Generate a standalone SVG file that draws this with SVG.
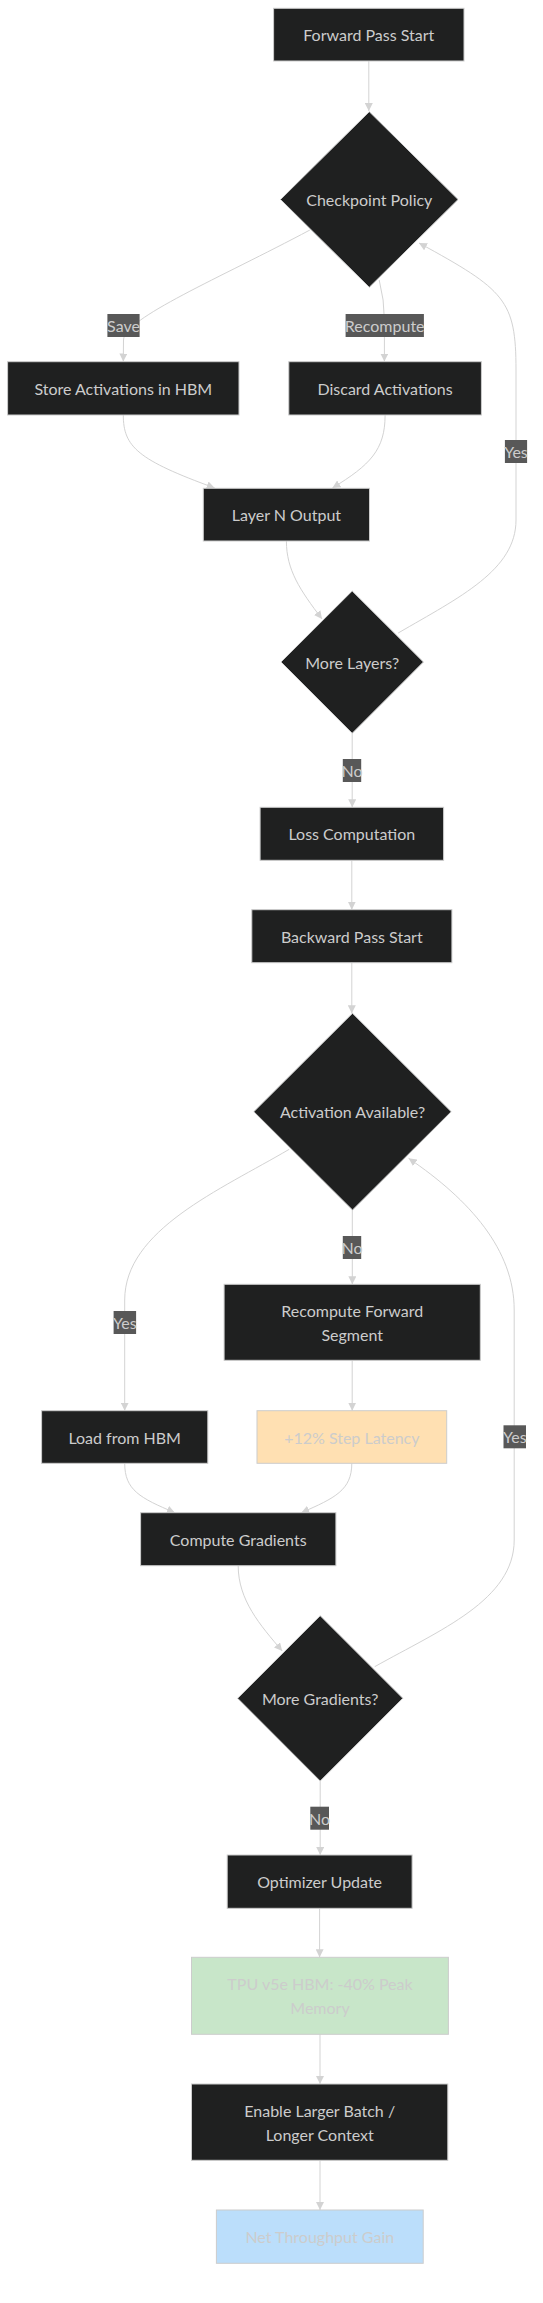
<svg xmlns="http://www.w3.org/2000/svg" width="543" height="2303" viewBox="0 0 543 2303">
<style>
.node rect, .node polygon { fill: #1f2020; stroke: #cccccc; stroke-width: 1; }
.node text { fill: #cccccc; font-family: Lato, "Liberation Sans", sans-serif; font-size: 16px; text-anchor: middle; dominant-baseline: central; }
.edges path { fill: none; stroke: #d3d3d3; stroke-width: 1; }
.elabel rect { fill: #585858; }
.elabel text { fill: #cccccc; font-family: Lato, "Liberation Sans", sans-serif; font-size: 16px; text-anchor: middle; dominant-baseline: central; }
.node.peach rect { fill: #ffe0b2; }
.node.green rect { fill: #c8e6c9; }
.node.blue rect { fill: #bbdefb; }
</style>
<defs>
<marker id="arrow" viewBox="0 0 10 10" refX="10" refY="5" markerWidth="8" markerHeight="8" markerUnits="userSpaceOnUse" orient="auto">
<path d="M0,0 L10,5 L0,10 z" fill="#d3d3d3"/>
</marker>
</defs>
<rect x="0" y="0" width="543" height="2303" fill="#ffffff"/>
<g class="edges">
<path marker-end="url(#arrow)" d="M368.8,61 L368.8,111"/>
<path marker-end="url(#arrow)" d="M309.9,230 C220,278 124,318 123.5,340 L123.3,361.5"/>
<path marker-end="url(#arrow)" d="M379.2,280 Q384.4,300 384.4,320 L384.4,361.5"/>
<path marker-end="url(#arrow)" d="M123.3,415 C123.3,447 138,460 214.7,488"/>
<path marker-end="url(#arrow)" d="M385.1,415 C385.1,450 370,465 332.4,488"/>
<path marker-end="url(#arrow)" d="M286.4,541 C286.4,570 300,590 322,619"/>
<path marker-end="url(#arrow)" d="M398.2,633 C460,597 516,570 516,520 L516,370 C516,300 505,290 419,243"/>
<path marker-end="url(#arrow)" d="M352.2,733.3 L352.2,807.3"/>
<path marker-end="url(#arrow)" d="M351.8,860.3 L351.8,909.7"/>
<path marker-end="url(#arrow)" d="M351.8,962.7 L351.8,1013.3"/>
<path marker-end="url(#arrow)" d="M289.2,1149.3 C220,1190 124.7,1230 124.7,1300 L124.7,1410.7"/>
<path marker-end="url(#arrow)" d="M352.3,1210 L352.3,1284.3"/>
<path marker-end="url(#arrow)" d="M352.2,1360.3 L352.2,1410.7"/>
<path marker-end="url(#arrow)" d="M124.7,1463.3 C124.7,1490 140,1498 174.9,1512.7"/>
<path marker-end="url(#arrow)" d="M351.8,1463.3 C351.8,1490 335,1498 301.3,1512.7"/>
<path marker-end="url(#arrow)" d="M238.2,1565.7 C238.2,1600 260,1625 282.2,1651"/>
<path marker-end="url(#arrow)" d="M374.7,1666.7 C440,1630 514.2,1600 514.2,1540 L514.2,1310 C514.2,1250 470,1200 408.6,1158.3"/>
<path marker-end="url(#arrow)" d="M320.2,1781 L320.2,1855"/>
<path marker-end="url(#arrow)" d="M319.6,1908.3 L319.6,1957.3"/>
<path marker-end="url(#arrow)" d="M320,2034.3 L320,2084"/>
<path marker-end="url(#arrow)" d="M320,2160.3 L320,2210"/>
</g>
<g class="edge-labels">
<g class="elabel" id="label-save"><rect x="107.4" y="314" width="32.2" height="23"/><text x="123.5" y="325.5">Save</text></g>
<g class="elabel" id="label-recompute"><rect x="345.6" y="314" width="78.3" height="23"/><text x="384.7" y="325.5">Recompute</text></g>
<g class="elabel" id="label-yes1"><rect x="504.9" y="440" width="22.2" height="23"/><text x="516" y="451.5">Yes</text></g>
<g class="elabel" id="label-no1"><rect x="342.8" y="759" width="18.4" height="23"/><text x="352" y="770.5">No</text></g>
<g class="elabel" id="label-no2"><rect x="342.8" y="1236" width="18.4" height="23"/><text x="352" y="1247.5">No</text></g>
<g class="elabel" id="label-yes2"><rect x="113.6" y="1311" width="22.5" height="23"/><text x="124.8" y="1322.5">Yes</text></g>
<g class="elabel" id="label-yes3"><rect x="503.5" y="1425.3" width="22.5" height="23"/><text x="514.8" y="1436.8">Yes</text></g>
<g class="elabel" id="label-no3"><rect x="310.3" y="1806.7" width="18.7" height="23"/><text x="319.6" y="1818.2">No</text></g>
</g>
<g class="node" id="forward"><rect x="273.6" y="8.3" width="190.4" height="52.7"/><text x="368.8" y="34.7">Forward Pass Start</text></g>
<g class="node" id="checkpoint"><polygon points="369.3,111.7 458.1,199.5 369.3,287.3 280.5,199.5"/><text x="369.3" y="199.5">Checkpoint Policy</text></g>
<g class="node" id="store"><rect x="7.6" y="361.7" width="231.4" height="53.3"/><text x="123.3" y="388.3">Store Activations in HBM</text></g>
<g class="node" id="discard"><rect x="288.8" y="361.7" width="192.6" height="53.3"/><text x="385.1" y="388.3">Discard Activations</text></g>
<g class="node" id="layern"><rect x="203.3" y="488.3" width="166.2" height="52.7"/><text x="286.4" y="514.7">Layer N Output</text></g>
<g class="node" id="morelayers"><polygon points="352.2,591 423.4,662 352.2,733.3 281,662"/><text x="352.2" y="662">More Layers?</text></g>
<g class="node" id="loss"><rect x="260.1" y="807.3" width="183.5" height="53"/><text x="351.8" y="833.8">Loss Computation</text></g>
<g class="node" id="backward"><rect x="251.8" y="909.7" width="200.1" height="53"/><text x="351.8" y="936.2">Backward Pass Start</text></g>
<g class="node" id="available"><polygon points="352.5,1013.3 451.2,1111.7 352.5,1210 253.8,1111.7"/><text x="352.5" y="1111.7">Activation Available?</text></g>
<g class="node" id="recompute"><rect x="224.1" y="1284.3" width="256.2" height="76"/><text x="352.2" y="1310.3">Recompute Forward</text><text x="352.2" y="1334.3">Segment</text></g>
<g class="node" id="load"><rect x="41.6" y="1410.7" width="166.2" height="52.6"/><text x="124.7" y="1437">Load from HBM</text></g>
<g class="node peach" id="latency"><rect x="257" y="1410.7" width="189.7" height="52.6"/><text x="351.8" y="1437">+12% Step Latency</text></g>
<g class="node" id="gradients"><rect x="140.6" y="1512.7" width="195.3" height="53"/><text x="238.2" y="1539.2">Compute Gradients</text></g>
<g class="node" id="moregrad"><polygon points="320.2,1615.7 402.8,1698.3 320.2,1781 237.6,1698.3"/><text x="320.2" y="1698.3">More Gradients?</text></g>
<g class="node" id="optimizer"><rect x="227.2" y="1855" width="184.9" height="53.3"/><text x="319.6" y="1881.7">Optimizer Update</text></g>
<g class="node green" id="tpu"><rect x="191.5" y="1957.3" width="256.9" height="77"/><text x="320" y="1983.8">TPU v5e HBM: -40% Peak</text><text x="320" y="2007.8">Memory</text></g>
<g class="node" id="enable"><rect x="191.5" y="2084" width="256.3" height="76.3"/><text x="319.7" y="2110.2">Enable Larger Batch /</text><text x="319.7" y="2134.2">Longer Context</text></g>
<g class="node blue" id="net"><rect x="216.4" y="2210" width="206.8" height="53.3"/><text x="319.8" y="2236.7">Net Throughput Gain</text></g>
</svg>
